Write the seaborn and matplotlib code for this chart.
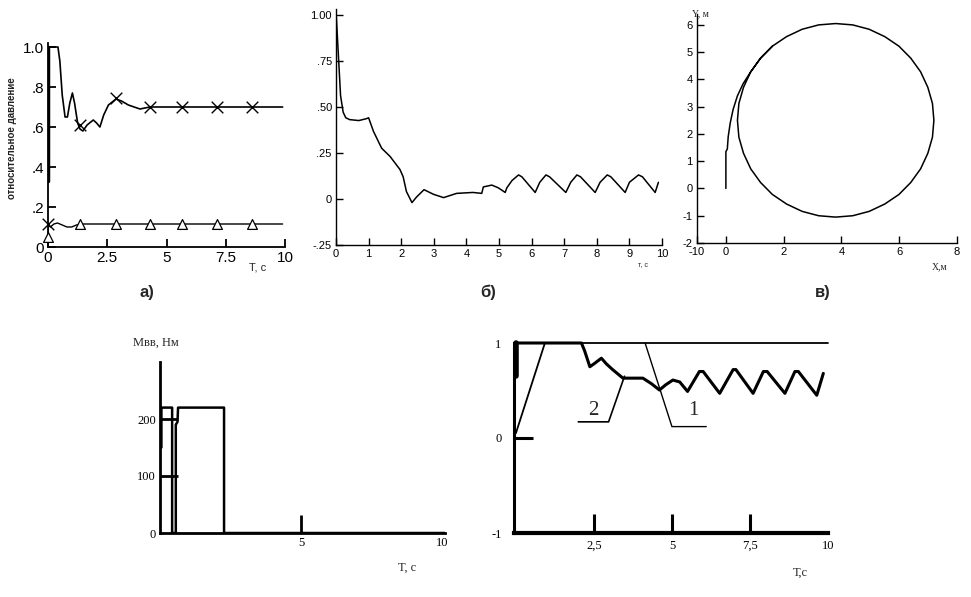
import matplotlib
matplotlib.use('Agg')
import matplotlib.pyplot as plt
import seaborn as sns

sns.set_theme(style='white')
plt.rcParams['font.family'] = ['Liberation Sans', 'DejaVu Sans']
plt.rcParams['axes.unicode_minus'] = False

# panel a) - relative pressure, two curves ----------
a_t_hi = [0, 0, 0.03, 0.42, 0.5, 0.6, 0.72, 0.82, 0.92, 1.03, 1.12, 1.25, 1.35, 1.47, 1.65, 1.91, 2.05, 2.19, 2.35, 2.55, 2.87, 3.1, 3.39, 3.88, 4.3, 9.9]
a_y_hi = [0.33, 1.0, 1.0, 1.0, 0.93, 0.76, 0.65, 0.65, 0.72, 0.77, 0.72, 0.62, 0.59, 0.58, 0.61, 0.635, 0.62, 0.60, 0.66, 0.71, 0.74, 0.73, 0.71, 0.69, 0.70, 0.70]
a_t_lo = [0, 0, 0.1, 0.25, 0.4, 0.6, 0.8, 1.0, 1.2, 1.4, 9.9]
a_y_lo = [0.03, 0.11, 0.10, 0.115, 0.12, 0.11, 0.10, 0.10, 0.11, 0.115, 0.115]
a_x_marks_t = [0, 1.35, 2.87, 4.3, 5.66, 7.13, 8.6]
a_x_marks_y = [0.115, 0.61, 0.745, 0.70, 0.70, 0.70, 0.70]
a_tri_t = [0, 1.35, 2.87, 4.3, 5.66, 7.13, 8.6]
a_tri_y = [0.05, 0.115, 0.115, 0.115, 0.115, 0.115, 0.115]

# panel б) ----------
b_t = [0, 0.07, 0.14, 0.22, 0.3, 0.42, 0.7, 0.93, 1.0, 1.15, 1.4, 1.66, 1.96, 2.06, 2.16, 2.33, 2.47, 2.7, 2.99, 3.3, 3.7, 4.2, 4.47, 4.52, 4.78, 4.98, 5.19, 5.24,
       5.4, 5.6, 5.7, 6.11, 6.25, 6.44, 6.55, 7.05, 7.2, 7.39, 7.5, 7.95, 8.1, 8.32, 8.43, 8.87, 9.0, 9.28, 9.4, 9.79, 9.89]
b_y = [1.02, 0.79, 0.56, 0.47, 0.44, 0.43, 0.425, 0.435, 0.44, 0.366, 0.275, 0.23, 0.16, 0.12, 0.04, -0.02, 0.01, 0.05, 0.025, 0.007, 0.03, 0.035, 0.03, 0.065, 0.075, 0.06, 0.035, 0.06,
       0.1, 0.13, 0.12, 0.035, 0.09, 0.13, 0.12, 0.035, 0.09, 0.13, 0.12, 0.035, 0.09, 0.13, 0.12, 0.035, 0.09, 0.13, 0.12, 0.035, 0.09]

# panel в) - trajectory ----------
c_x = [0, 0, 0.05, 0.08, 0.15, 0.25, 0.4, 0.6, 0.86, 1.2, 1.61, 2.1, 2.64, 3.21, 3.8, 4.39, 4.96, 5.5, 5.99, 6.4, 6.74, 6.99, 7.15, 7.2,
       7.15, 6.99, 6.74, 6.4, 5.99, 5.5, 4.96, 4.39, 3.8, 3.21, 2.64, 2.1, 1.61, 1.2, 0.86, 0.61, 0.45, 0.4, 0.45, 0.61, 0.86, 1.2, 1.61]
c_y = [0, 1.35, 1.45, 1.9, 2.4, 2.9, 3.4, 3.85, 4.28, 4.78, 5.22, 5.57, 5.84, 6.0, 6.05, 6.0, 5.84, 5.57, 5.22, 4.78, 4.28, 3.71, 3.12, 2.5,
       1.88, 1.29, 0.72, 0.22, -0.22, -0.57, -0.84, -1.0, -1.05, -1.0, -0.84, -0.57, -0.22, 0.22, 0.72, 1.29, 1.88, 2.5, 3.12, 3.71, 4.28, 4.78, 5.22]
c_xticks = [-1, 0, 2, 4, 6, 8]
c_xlabels = ['-10', '0', '2', '4', '6', '8']

# bottom left - moment ----------
m_t = [0.05, 0.05, 0.43, 0.43, 0.56, 0.56, 0.62, 0.64, 2.27, 2.27, 10.1]
m_val = [150, 220, 220, 0, 0, 190, 195, 220, 220, 0, 0]

# bottom right - curves 1 and 2 ----------
r1_t = [0, 0.93, 10]
r1_y = [0.05, 1.0, 1.0]
r2_t = [0, 0, 0.05, 2.1, 2.2, 2.37, 2.5, 2.74, 2.9, 3.1, 3.43, 4.07, 4.35, 4.6, 4.8, 5.03, 5.25, 5.5, 5.88, 6.0, 6.53, 6.96, 7.05, 7.6, 7.93,
        8.05, 8.62, 8.94, 9.05, 9.64, 9.85]
r2_y = [0.65, 1, 1, 1, 0.92, 0.75, 0.78, 0.84, 0.78, 0.72, 0.63, 0.63, 0.57, 0.505, 0.56, 0.61, 0.59, 0.49, 0.70, 0.70, 0.47, 0.72, 0.72,
        0.47, 0.70, 0.70, 0.47, 0.70, 0.70, 0.45, 0.68]
lead1_t = [6.1, 5.0, 4.14]
lead1_y = [0.12, 0.12, 1.0]
lead2_t = [2.0, 2.97, 3.48]
lead2_y = [0.17, 0.17, 0.65]

W, H = 971, 597


def box(l, b, r, t):
    return [l / W, 1 - b / H, (r - l) / W, (b - t) / H]


def style(ax, lw, size, tlen, family, pad=3):
    sns.despine(ax=ax)
    for s in ['left', 'bottom']:
        ax.spines[s].set_linewidth(lw)
        ax.spines[s].set_color('black')
    ax.tick_params(direction='in', length=tlen, width=lw, labelsize=size, colors='black', pad=pad,
                   bottom=True, left=True)
    for lab in ax.get_xticklabels() + ax.get_yticklabels():
        lab.set_family(family)


def hide_marks(axis, idx):
    # keep the label, drop the little tick line
    for i in idx:
        axis.get_major_ticks()[i].tick1line.set_visible(False)


fig = plt.figure(figsize=(9.71, 5.97), dpi=100)
fig.patch.set_facecolor('white')

# a)
ax = fig.add_axes(box(48, 247, 285, 43))
sns.lineplot(x=a_t_hi, y=a_y_hi, sort=False, estimator=None, color='black', lw=1.2, ax=ax)
ax.plot([0, 0], [0.33, 1.0], color='black', lw=2.5)
sns.lineplot(x=a_t_lo, y=a_y_lo, sort=False, estimator=None, color='black', lw=1.0, ax=ax)
sns.scatterplot(x=a_x_marks_t, y=a_x_marks_y, marker='x', s=70, color='black', linewidth=1.0, ax=ax, clip_on=False)
ax.scatter(a_tri_t, a_tri_y, marker='^', s=50, facecolors='white', edgecolors='black', linewidths=0.9, zorder=3, clip_on=False)
ax.set_xlim(0, 10)
ax.set_ylim(0, 1.02)
ax.set_xticks([0, 2.5, 5, 7.5, 10])
ax.set_xticklabels(['0', '2.5', '5', '7.5', '10'])
ax.set_yticks([0, 0.2, 0.4, 0.6, 0.8, 1.0])
ax.set_yticklabels(['0', '.2', '.4', '.6', '.8', '1.0'])
style(ax, 1.3, 11, 6, 'Liberation Sans')
fig.text(12 / W, 1 - 138 / H, 'относительное давление', rotation=90, fontsize=7, fontweight='bold',
         ha='center', va='center', color='#222222')
fig.text(258 / W, 1 - 267 / H, 'Т, с', fontsize=8, ha='center', va='center')
fig.text(147 / W, 1 - 292 / H, 'а)', fontsize=12, fontweight='bold', ha='center', va='center')

# б)
ax = fig.add_axes(box(336, 245, 662, 9))
sns.lineplot(x=b_t, y=b_y, sort=False, estimator=None, color='black', lw=1.1, ax=ax)
ax.set_xlim(0, 10)
ax.set_ylim(-0.25, 1.03)
ax.set_xticks(range(0, 11))
ax.set_yticks([-0.25, 0, 0.25, 0.5, 0.75, 1.0])
ax.set_yticklabels(['-.25', '0', '.25', '.50', '.75', '1.00'])
style(ax, 1.0, 8, 5, 'Liberation Sans')
fig.text(643 / W, 1 - 265 / H, 'т, с', fontsize=5, ha='center', va='center')
fig.text(488 / W, 1 - 292 / H, 'б)', fontsize=12, fontweight='bold', ha='center', va='center')

# в)
ax = fig.add_axes(box(697, 243, 957, 14))
sns.lineplot(x=c_x, y=c_y, sort=False, estimator=None, color='black', lw=1.1, ax=ax)
ax.set_xlim(-1, 8)
ax.set_ylim(-2, 6.4)
ax.set_xticks(c_xticks)
ax.set_xticklabels(c_xlabels)
ax.set_yticks(range(-2, 7))
style(ax, 1.0, 8, 5, 'Liberation Sans')
fig.text(700 / W, 1 - 14 / H, 'Y, м', fontsize=7, ha='center', va='center', family='Liberation Serif')
fig.text(940 / W, 1 - 267 / H, 'Х,м', fontsize=7, ha='center', va='center', family='Liberation Serif')
fig.text(823 / W, 1 - 292 / H, 'в)', fontsize=12, fontweight='bold', ha='center', va='center')

# bottom left - Мвв
ax = fig.add_axes(box(160, 533, 445, 362))
sns.lineplot(x=m_t, y=m_val, sort=False, estimator=None, color='black', lw=1.8, ax=ax)
ax.set_xlim(0, 10.1)
ax.set_ylim(0, 300)
ax.set_xticks([5, 10])
ax.set_yticks([0, 100, 200])
style(ax, 2.0, 9, 13, 'Liberation Serif')
hide_marks(ax.xaxis, [1])
hide_marks(ax.yaxis, [0])
fig.text(156 / W, 1 - 343 / H, 'Мвв, Нм', fontsize=9, ha='center', va='center', family='Liberation Serif')
fig.text(407 / W, 1 - 568 / H, 'Т, с', fontsize=9, ha='center', va='center', family='Liberation Serif')

# bottom right - 1 and 2
ax = fig.add_axes(box(514, 533, 828, 343))
sns.lineplot(x=r1_t, y=r1_y, sort=False, estimator=None, color='black', lw=1.3, ax=ax)
sns.lineplot(x=r2_t, y=r2_y, sort=False, estimator=None, color='black', lw=2.2, ax=ax)
ax.plot([0, 0], [0.65, 1.0], color='black', lw=4)
sns.lineplot(x=lead1_t, y=lead1_y, sort=False, estimator=None, color='black', lw=1.0, ax=ax)
sns.lineplot(x=lead2_t, y=lead2_y, sort=False, estimator=None, color='black', lw=1.2, ax=ax)
for line in ax.lines:
    line.set_clip_on(False)
ax.text(5.68, 0.19, '1', fontsize=15, ha='center', va='bottom', family='Liberation Serif')
ax.text(2.48, 0.19, '2', fontsize=15, ha='center', va='bottom', family='Liberation Serif')
ax.set_xlim(-0.06, 10)
ax.set_ylim(-1, 1)
ax.set_xticks([2.5, 5, 7.5, 10])
ax.set_xticklabels(['2,5', '5', '7,5', '10'])
ax.set_yticks([-1, 0, 1])
style(ax, 2.2, 9, 14, 'Liberation Serif', pad=9)
ax.tick_params(axis='x', pad=5)
hide_marks(ax.xaxis, [3])
hide_marks(ax.yaxis, [0, 2])
ax.spines['bottom'].set_linewidth(3)
fig.text(800 / W, 1 - 573 / H, 'Т,с', fontsize=9, ha='center', va='center', family='Liberation Serif')

fig.savefig('out.png', dpi=100, facecolor='white')
